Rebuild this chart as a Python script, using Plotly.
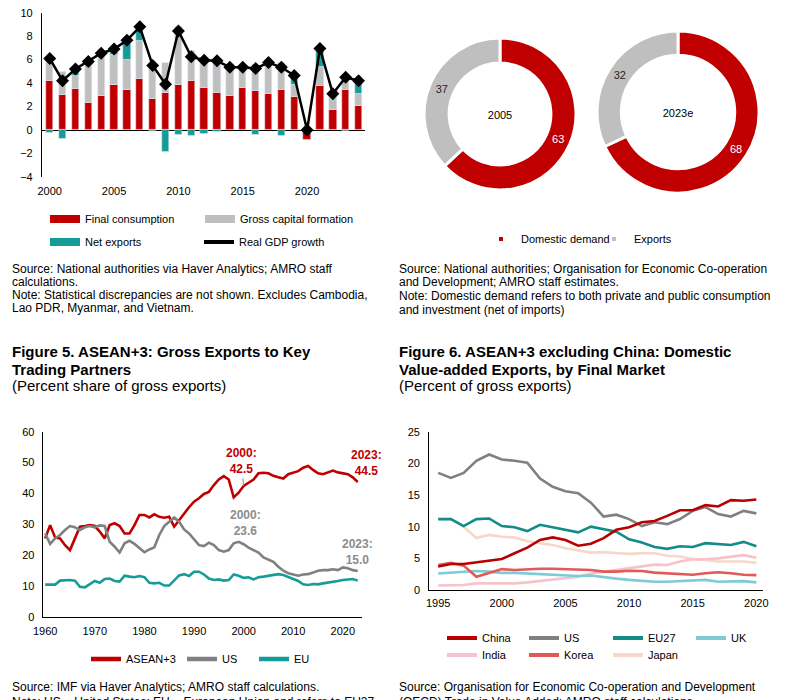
import plotly.graph_objects as go

W, H = 789, 700


def fx(p):
    return p / W


def fy(p):
    return 1 - p / H


FONT = "Liberation Sans, Arial, sans-serif"
RED = "#C00000"
GRAY_BAR = "#BFBFBF"
TEAL = "#169C98"
GRAY_LINE = "#808080"

# ---------------- Figure (top-left): GDP growth contributions ----------------
years_a = list(range(2000, 2025))
final_consumption = [4.2, 3.0, 3.5, 2.35, 2.9, 3.9, 3.45, 4.35, 2.65, 3.2, 3.85, 4.2, 3.6,
                     3.2, 2.95, 3.6, 3.35, 3.1, 3.45, 2.85, -0.8, 3.8, 1.75, 3.45, 2.05]
gross_capital = [1.7, 2.0, 1.1, 3.55, 3.4, 2.55, 2.55, 3.25, 2.75, 2.55, 4.95, 2.55, 2.6,
                 2.6, 2.6, 1.65, 2.2, 2.6, 2.25, 1.05, 0.0, 1.6, 1.35, 0.8, 1.05]
net_exports = [-0.2, -0.7, 0.45, 0.0, 0.0, 0.45, 1.35, 0.9, -0.05, -1.85, -0.4, -0.45, -0.3,
               -0.1, 0.0, 0.1, -0.4, 0.0, -0.5, 0.8, 0.0, 1.45, 0.0, -0.05, 1.15]
real_gdp = [6.1, 4.2, 5.2, 5.85, 6.55, 6.9, 7.65, 8.8, 5.5, 3.9, 8.45, 6.25, 5.95, 5.9,
            5.35, 5.35, 5.25, 5.75, 5.35, 4.65, 0.0, 6.95, 3.1, 4.5, 4.2]

# ---------------- Donuts ----------------
donut_labels = ["Domestic demand", "Exports"]
donut_2005 = [63, 37]
donut_2023 = [68, 32]
donut_titles = ["2005", "2023e"]

# ---------------- Figure 5 ----------------
years_c = list(range(1960, 2024))
asean3 = [25.4, 29.7, 25.7, 25.4, 23.2, 21.6, 25.4, 29.2, 29.4, 29.7, 29.4, 27.6, 25.4, 29.7,
          30.3, 29.4, 27.0, 27.0, 29.7, 33.0, 33.0, 32.2, 33.2, 32.4, 32.1, 32.4, 29.2, 31.4,
          33.5, 35.5, 37.3, 38.4, 39.8, 40.5, 42.7, 44.5, 45.6, 44.5, 38.7, 40.2, 42.4, 43.5,
          44.5, 46.5, 46.7, 46.5, 45.7, 45.2, 44.8, 46.2, 46.7, 47.2, 48.3, 48.9, 47.6, 46.5,
          46.2, 46.7, 47.4, 46.8, 46.5, 46.2, 45.2, 43.7]
us_c = [27.0, 23.6, 25.4, 26.5, 28.1, 29.4, 29.0, 28.1, 29.0, 29.4, 29.0, 29.6, 29.4, 24.3,
        22.7, 20.8, 23.8, 24.6, 23.6, 22.2, 20.9, 21.8, 22.5, 26.5, 29.4, 30.8, 32.2, 30.8,
        28.3, 27.0, 25.1, 23.2, 22.9, 24.0, 23.2, 21.6, 21.1, 21.6, 23.8, 24.3, 23.5, 22.4,
        21.6, 20.8, 19.2, 18.6, 17.8, 16.2, 14.9, 14.1, 13.8, 13.3, 13.7, 13.8, 14.3, 14.9,
        15.1, 15.1, 15.4, 15.1, 16.0, 15.7, 15.1, 14.8]
eu_c = [10.4, 10.4, 10.4, 11.7, 11.9, 11.9, 11.7, 9.7, 9.5, 10.6, 11.6, 11.0, 12.2, 12.4,
        11.6, 11.4, 13.3, 13.0, 12.8, 13.2, 12.8, 11.0, 10.8, 11.0, 10.1, 10.1, 11.9, 13.4,
        13.8, 13.2, 14.6, 14.6, 13.7, 12.4, 11.9, 12.1, 11.7, 11.9, 13.7, 13.3, 12.6, 12.8,
        12.1, 12.8, 13.0, 13.2, 13.5, 13.8, 13.5, 12.8, 12.2, 11.6, 10.5, 10.3, 10.6, 10.5,
        10.8, 11.0, 11.4, 11.6, 11.9, 12.1, 12.2, 11.7]

# ---------------- Figure 6 ----------------
years_d = list(range(1995, 2021))
china_d = [3.7, 4.1, 4.1, 4.4, 4.7, 4.9, 5.8, 6.7, 7.9, 8.3, 7.9, 7.0, 7.3, 8.2, 9.5, 9.9,
           10.7, 10.9, 11.7, 12.6, 12.6, 13.4, 13.2, 14.2, 14.1, 14.3]
us_d = [18.5, 17.7, 18.5, 20.4, 21.4, 20.6, 20.4, 20.1, 17.6, 16.3, 15.6, 15.3, 13.8, 11.6,
        11.9, 11.2, 10.1, 10.7, 10.4, 11.2, 12.5, 13.1, 12.0, 11.6, 12.5, 12.1]
eu27_d = [11.2, 11.2, 10.1, 11.2, 11.3, 10.1, 9.9, 9.3, 10.3, 9.9, 9.6, 9.1, 10.0, 9.6, 9.2,
          8.0, 7.5, 6.8, 6.5, 6.9, 6.8, 7.4, 7.3, 7.1, 7.6, 6.9]
uk_d = [2.6, 2.7, 2.8, 3.0, 2.9, 2.7, 2.7, 2.6, 2.5, 2.5, 2.4, 2.2, 2.3, 2.0, 1.8, 1.6, 1.4,
        1.3, 1.3, 1.4, 1.6, 1.6, 1.3, 1.3, 1.4, 1.2]
india_d = [0.7, 0.7, 0.8, 1.05, 1.05, 0.95, 1.05, 1.2, 1.4, 1.7, 1.9, 2.1, 2.6, 2.9, 3.15,
           3.4, 3.8, 4.0, 3.95, 4.5, 4.85, 4.85, 5.0, 5.25, 5.5, 5.1]
korea_d = [3.95, 4.3, 3.85, 2.1, 2.7, 3.3, 3.15, 3.3, 3.35, 3.35, 3.25, 3.25, 3.15, 2.9, 2.9,
           3.05, 3.0, 2.75, 2.65, 2.5, 2.4, 2.65, 2.8, 2.65, 2.4, 2.35]
japan_d = [11.2, 11.2, 10.0, 8.2, 8.7, 8.4, 8.3, 7.7, 7.4, 7.1, 6.6, 6.3, 5.9, 5.95, 5.8,
           5.7, 5.8, 5.8, 5.4, 5.3, 4.85, 4.75, 4.5, 4.5, 4.5, 4.3]

fig = go.Figure()

# bars
fig.add_trace(go.Bar(x=years_a, y=final_consumption, marker_color=RED, width=0.57,
                     showlegend=False, xaxis="x", yaxis="y", name="Final consumption"))
fig.add_trace(go.Bar(x=years_a, y=gross_capital, marker_color=GRAY_BAR, width=0.57,
                     showlegend=False, xaxis="x", yaxis="y", name="Gross capital formation"))
fig.add_trace(go.Bar(x=years_a, y=net_exports, marker_color=TEAL, width=0.57,
                     showlegend=False, xaxis="x", yaxis="y", name="Net exports"))
fig.add_trace(go.Scatter(x=years_a, y=real_gdp, mode="lines+markers",
                         line=dict(color="black", width=2.5),
                         marker=dict(symbol="diamond", size=10, color="black"),
                         showlegend=False, xaxis="x", yaxis="y", name="Real GDP growth"))

# donuts
for vals, title, dom, hole in [
    (donut_2005, donut_titles[0], ([424, 576], [38, 190]), 0.67),
    (donut_2023, donut_titles[1], ([597, 759], [31, 193]), 0.70),
]:
    fig.add_trace(go.Pie(
        values=vals, labels=donut_labels, sort=False, direction="clockwise", rotation=0,
        hole=hole, marker=dict(colors=[RED, GRAY_BAR], line=dict(color="white", width=3)),
        textinfo="value", textposition="inside", insidetextorientation="horizontal",
        textfont=dict(color=["white", "#262626"], size=11, family=FONT),
        title=dict(text=title, position="middle center", font=dict(size=11, family=FONT, color="black")),
        domain=dict(x=[fx(dom[0][0]), fx(dom[0][1])], y=[fy(dom[1][1]), fy(dom[1][0])]),
        showlegend=False, hoverinfo="skip"))

# Figure 5 lines
for yv, col in [(asean3, RED), (us_c, GRAY_LINE), (eu_c, TEAL)]:
    fig.add_trace(go.Scatter(x=years_c, y=yv, mode="lines", line=dict(color=col, width=2.6),
                             showlegend=False, xaxis="x2", yaxis="y2"))

# Figure 6 lines (draw light ones first)
fig6_series = [
    (japan_d, "#F8D6C9"), (india_d, "#F5C3C9"), (uk_d, "#7FCAD5"), (korea_d, "#E05A5A"),
    (eu27_d, "#128C88"), (us_d, GRAY_LINE), (china_d, "#B80000"),
]
for yv, col in fig6_series:
    fig.add_trace(go.Scatter(x=years_d, y=yv, mode="lines", line=dict(color=col, width=2.6),
                             showlegend=False, xaxis="x3", yaxis="y3"))

# ---------------- legends (one entry per legend for exact placement) ----------------
legend_items = [
    # name, color, mode, width/size, swatch start x px, center y px
    ("Final consumption", RED, "lines", 8, 50, 219),
    ("Gross capital formation", GRAY_BAR, "lines", 8, 205, 219),
    ("Net exports", TEAL, "lines", 8, 50, 242),
    ("Real GDP growth", "black", "lines", 4, 204, 242),
    ("Domestic demand", RED, "markers", 4, 486, 239),
    ("Exports", GRAY_BAR, "markers", 4, 599, 239),
    ("ASEAN+3", RED, "lines", 4.5, 91, 659),
    ("US", GRAY_LINE, "lines", 4.5, 187, 659),
    ("EU", TEAL, "lines", 4.5, 259, 659),
    ("China", "#B80000", "lines", 4, 447, 638),
    ("US", GRAY_LINE, "lines", 4, 529, 638),
    ("EU27", "#128C88", "lines", 4, 613, 638),
    ("UK", "#7FCAD5", "lines", 4, 696, 638),
    ("India", "#F5C3C9", "lines", 4, 447, 655),
    ("Korea", "#E05A5A", "lines", 4, 529, 655),
    ("Japan", "#F8D6C9", "lines", 4, 613, 655),
]
legend_layout = {}
for i, (name, col, mode, sz, xs, yc) in enumerate(legend_items):
    lid = "legend" if i == 0 else f"legend{i + 1}"
    if mode == "lines":
        tr = go.Scatter(x=[None], y=[None], mode="lines", line=dict(color=col, width=sz),
                        name=name, legend=lid, xaxis="x", yaxis="y", hoverinfo="skip")
    else:
        tr = go.Scatter(x=[None], y=[None], mode="markers",
                        marker=dict(color=col, size=sz, symbol="square"),
                        name=name, legend=lid, xaxis="x", yaxis="y", hoverinfo="skip")
    fig.add_trace(tr)
    legend_layout[lid] = dict(x=fx(xs - 5), y=fy(yc), xanchor="left", yanchor="middle",
                              orientation="h", bgcolor="rgba(0,0,0,0)", borderwidth=0,
                              font=dict(size=11, family=FONT, color="black"),
                              itemclick=False, itemdoubleclick=False)

# ---------------- axes ----------------
tickfont = dict(size=11, family=FONT, color="black")
axis_common = dict(showgrid=False, ticks="", tickfont=tickfont, fixedrange=True,
                   automargin=False)

layout = dict(
    width=W, height=H, autosize=False,
    margin=dict(l=0, r=0, t=0, b=0, pad=0),
    paper_bgcolor="white", plot_bgcolor="white",
    barmode="relative", bargap=0,
    font=dict(family=FONT, color="black"),
    xaxis=dict(domain=[fx(42), fx(365)], range=[1999.4, 2024.5], anchor="y",
               tickvals=[2000, 2005, 2010, 2015, 2020], showline=False, zeroline=False,
               ticklabelstandoff=6, **axis_common),
    yaxis=dict(domain=[fy(177), fy(12.7)], range=[-4, 10], anchor="x", dtick=2,
               showline=True, linecolor="black", linewidth=1.2, zeroline=True,
               zerolinecolor="black", zerolinewidth=1.3, ticklabelstandoff=6, **axis_common),
    xaxis2=dict(domain=[fx(42.7), fx(361.7)], range=[1959.5, 2023.8], anchor="y2",
                tickvals=[1960, 1970, 1980, 1990, 2000, 2010, 2020], showline=True,
                linecolor="black", linewidth=1.2, zeroline=False, ticklabelstandoff=4,
                **axis_common),
    yaxis2=dict(domain=[fy(616.7), fy(431.7)], range=[0, 60], anchor="x2", dtick=10,
                showline=True, linecolor="black", linewidth=1.2, zeroline=False,
                ticklabelstandoff=5, **axis_common),
    xaxis3=dict(domain=[fx(429.3), fx(762.7)], range=[1994.3, 2020.5], anchor="y3",
                tickvals=[1995, 2000, 2005, 2010, 2015, 2020], showline=True,
                linecolor="black", linewidth=1.2, zeroline=False, ticklabelstandoff=3,
                **axis_common),
    yaxis3=dict(domain=[fy(590), fy(431.7)], range=[0, 25], anchor="x3", dtick=5,
                showline=True, linecolor="black", linewidth=1.2, zeroline=False,
                ticklabelstandoff=6, **axis_common),
)
layout.update(legend_layout)
fig.update_layout(**layout)

# ---------------- text ----------------
ann = []


def text(s, xpx, ypx, size=12, bold=False, color="black", xanchor="left"):
    ann.append(dict(text=f"<b>{s}</b>" if bold else s, x=fx(xpx), y=fy(ypx),
                    xref="paper", yref="paper", xanchor=xanchor, yanchor="middle",
                    showarrow=False, font=dict(size=size, family=FONT, color=color)))


top_left_notes = [
    ("Source: National authorities via Haver Analytics; AMRO staff", 269),
    ("calculations.", 281.5),
    ("Note: Statistical discrepancies are not shown. Excludes Cambodia,", 295),
    ("Lao PDR, Myanmar, and Vietnam.", 308),
]
for s, y in top_left_notes:
    text(s, 10, y)

top_right_notes = [
    ("Source: National authorities; Organisation for Economic Co-operation", 268.5),
    ("and Development; AMRO staff estimates.", 282),
    ("Note: Domestic demand refers to both private and public consumption", 296),
    ("and investment (net of imports)", 310),
]
for s, y in top_right_notes:
    text(s, 397, y)

text("Figure 5. ASEAN+3: Gross Exports to Key", 10, 351, size=15, bold=True)
text("Trading Partners", 10, 369, size=15, bold=True)
text("(Percent share of gross exports)", 10, 386, size=15)
text("Figure 6. ASEAN+3 excluding China: Domestic", 397, 351, size=15, bold=True)
text("Value-added Exports, by Final Market", 397, 369, size=15, bold=True)
text("(Percent of gross exports)", 397, 386, size=15)

text("Source: IMF via Haver Analytics; AMRO staff calculations.", 10, 687)
text("Note: US = United States; EU = European Union and refers to EU27.", 10, 702)
text("Source: Organisation for Economic Co-operation and Development", 397, 687)
text("(OECD) Trade in Value Added; AMRO staff calculations.", 397, 702)

# data-labels in Figure 5
text("2000:<br>42.5", 242, 461, size=12, bold=True, color=RED, xanchor="center")
text("2000:<br>23.6", 245.5, 523, size=12, bold=True, color="#8C8C8C", xanchor="center")
text("2023:<br>44.5", 366, 463, size=12, bold=True, color=RED, xanchor="center")
text("2023:<br>15.0", 357, 551.5, size=12, bold=True, color="#8C8C8C", xanchor="center")

# leader line from the 2000 ASEAN+3 label to its data point
ann.append(dict(text="", x=2000, y=asean3[years_c.index(2000)], xref="x2", yref="y2",
                showarrow=True, arrowhead=0, arrowwidth=1, arrowcolor="#8C8C8C",
                ax=-1, ay=-9, standoff=0))

fig.update_layout(annotations=ann)

fig.write_html("out.html", config=dict(displayModeBar=False),
               post_script="document.body.style.margin='0px';")
